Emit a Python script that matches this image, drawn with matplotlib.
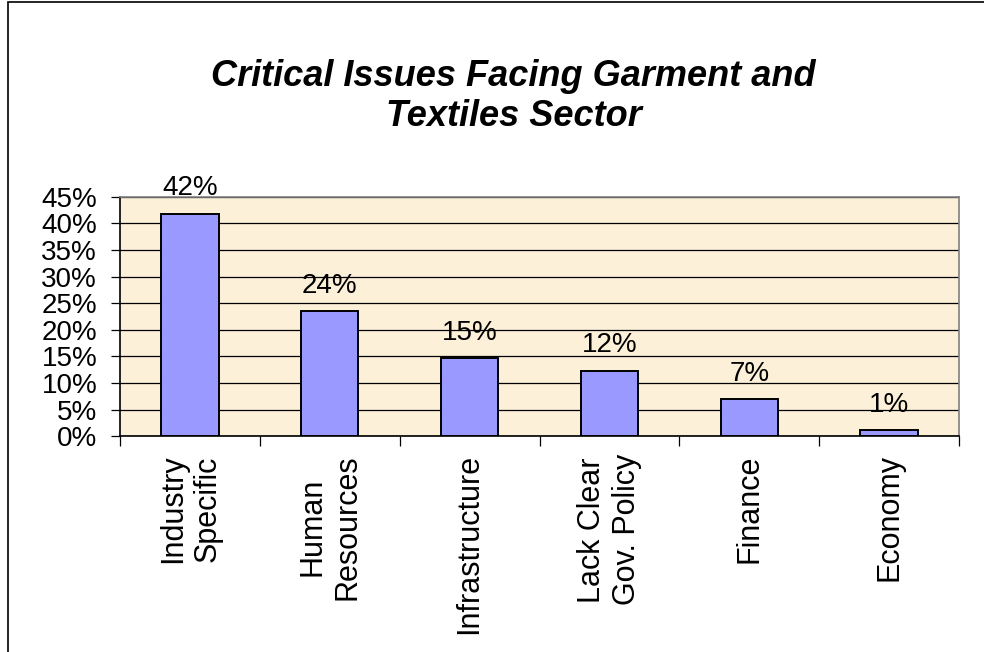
import matplotlib.pyplot as plt
from matplotlib.patches import Rectangle
from matplotlib.ticker import MultipleLocator, PercentFormatter

categories = ['Industry\nSpecific', 'Human\nResources', 'Infrastructure',
              'Lack Clear\nGov. Policy', 'Finance', 'Economy']
values = [0.418, 0.235, 0.147, 0.123, 0.069, 0.011]
value_labels = ['42%', '24%', '15%', '12%', '7%', '1%']

plt.rcParams['font.family'] = ['Liberation Sans', 'DejaVu Sans']

fig = plt.figure(figsize=(9.84, 6.52), dpi=100)
fig.set_facecolor('white')

# outer frame (left and top edges visible in the original)
fig.patches.append(Rectangle((8 / 984, -0.1), 1.2, 1.1 - 2 / 652,
                             transform=fig.transFigure, fill=False,
                             edgecolor='black', linewidth=1.2))

ax = fig.add_axes([0.122, 0.331, 0.8526, 0.367])
ax.set_facecolor('#FCF0D8')

x = list(range(len(categories)))
ax.bar(x, values, width=0.41, color='#9999FF', edgecolor='black',
       linewidth=1.4, zorder=3)

for xi, v, lab in zip(x, values, value_labels):
    ax.annotate(lab, (xi, v), xytext=(0, 9), textcoords='offset points',
                ha='center', va='bottom', fontsize=20)

ax.set_xlim(-0.5, len(categories) - 0.5)
ax.set_ylim(0, 0.45)
ax.yaxis.set_major_locator(MultipleLocator(0.05))
ax.yaxis.set_major_formatter(PercentFormatter(1.0, decimals=0))
ax.grid(axis='y', color='black', linewidth=0.9, zorder=1)
ax.set_axisbelow(True)

ax.set_xticks(x)
ax.set_xticklabels(categories, rotation=90, fontsize=22,
                   ha='center', va='top', multialignment='center')
ax.tick_params(axis='x', length=0, pad=13)
ax.set_xticks([i + 0.5 for i in range(-1, len(categories))], minor=True)
ax.tick_params(axis='x', which='minor', length=7.5, width=0.9, direction='out')
ax.tick_params(axis='y', labelsize=20, length=6.5, width=0.9, pad=10)

ax.spines['left'].set_color('black')
ax.spines['bottom'].set_color('black')
ax.spines['top'].set_color('#808080')
ax.spines['right'].set_color('#808080')
for s in ax.spines.values():
    s.set_linewidth(1.2)

fig.text(0.522, 0.852, 'Critical Issues Facing Garment and\nTextiles Sector',
         ha='center', va='center', fontsize=26, fontweight='bold',
         fontstyle='italic', linespacing=1.2)

fig.savefig('out.png', dpi=100)
